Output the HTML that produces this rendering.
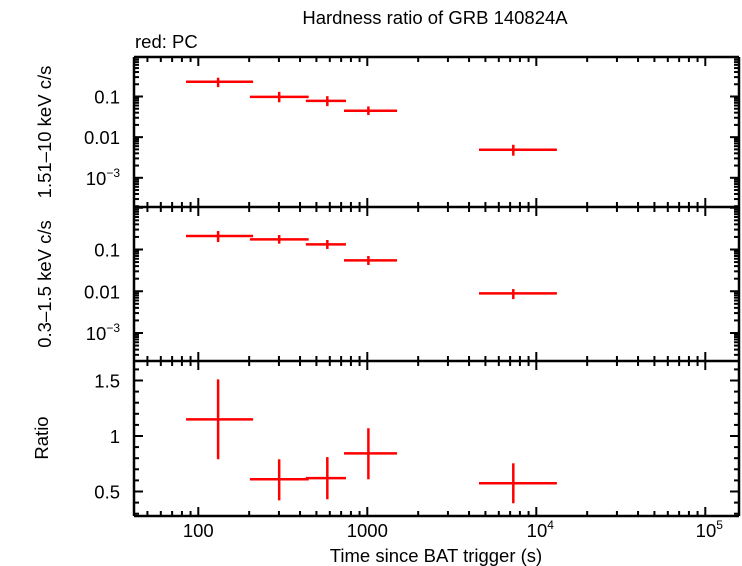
<!DOCTYPE html>
<html><head><meta charset="utf-8"><style>
body{margin:0;background:#fff}
svg{display:block;font-family:"Liberation Sans",Arial,sans-serif}
</style></head><body>
<svg id="c" width="742" height="566" viewBox="0 0 742 566">
<text x="435" y="24" font-size="18.5" text-anchor="middle">Hardness ratio of GRB 140824A</text>
<text x="135" y="48" font-size="18.5">red: PC</text>
<text transform="translate(51,132) rotate(-90)" font-size="18.5" text-anchor="middle">1.51–10 keV c/s</text>
<text transform="translate(51,284) rotate(-90)" font-size="18.5" text-anchor="middle">0.3–1.5 keV c/s</text>
<text transform="translate(48,438) rotate(-90)" font-size="18.5" text-anchor="middle">Ratio</text>
<text x="436" y="562" font-size="18.5" text-anchor="middle">Time since BAT trigger (s)</text>
<g id="g"></g>
</svg>
<script>
const timeCenters=[131,301,580,1015,7310];
const timeLow=[84.6,202,433,728,4580];
const timeHigh=[211,450,748,1500,13240];
const hardRate=[0.23,0.098,0.078,0.0446,0.0049];
const hardLow=[0.17,0.072,0.058,0.035,0.0035];
const hardHigh=[0.29,0.13,0.102,0.057,0.0065];
const softRate=[0.21,0.175,0.133,0.055,0.0089];
const softLow=[0.151,0.138,0.103,0.0425,0.0065];
const softHigh=[0.277,0.222,0.169,0.0698,0.0113];
const ratio=[1.15,0.61,0.62,0.844,0.574];
const ratioLow=[0.79,0.42,0.43,0.61,0.394];
const ratioHigh=[1.51,0.79,0.81,1.07,0.754];
const xTickVals=[100,1000,10000,100000];
const xTickLabels=["100","1000","10^4","10^5"];
const logTickVals=[0.1,0.01,0.001];
const logTickLabels=["0.1","0.01","10^-3"];
const ratioTickVals=[0.5,1,1.5];
const ratioTickLabels=["0.5","1","1.5"];

const NS="http://www.w3.org/2000/svg";
const g=document.getElementById('g');
const L=134,R=739;
const X=v=>198.3+169*(Math.log10(v)-2);
const Ytop=v=>96.5-40.65*(Math.log10(v)+1);
const Ymid=v=>249.5-41.75*(Math.log10(v)+1);
const Ybot=v=>436-111*(v-1);
const panels=[[57,207],[207,361],[361,516]];
function ln(x1,y1,x2,y2,c,w,name){const e=document.createElementNS(NS,'line');
e.setAttribute('x1',x1);e.setAttribute('y1',y1);e.setAttribute('x2',x2);e.setAttribute('y2',y2);
e.setAttribute('stroke',c);e.setAttribute('stroke-width',w);


g.appendChild(e);return e;}
function tx(x,y,s,anchor,name){const e=document.createElementNS(NS,'text');
e.setAttribute('x',x);e.setAttribute('y',y);e.setAttribute('font-size','18.5');e.setAttribute('text-anchor',anchor);
let m=s.match(/^(\d+)\^(.+)$/);
if(m){e.textContent=m[1];const t=document.createElementNS(NS,'tspan');t.setAttribute('dy','-8');t.setAttribute('font-size','12');t.textContent=m[2].replace('-','−');e.appendChild(t);}
else e.textContent=s;


g.appendChild(e);}
panels.forEach(([t,b],pi)=>{
 for(let d=1;d<=5;d++){for(let k=1;k<10;k++){const v=k*Math.pow(10,d);const x=X(v);if(x<=L||x>=R)continue;
  const len=k==1?9:5;ln(x,t,x,t+len,'#000',2,'x-tick');ln(x,b,x,b-len,'#000',2,'x-tick');}}
});
xTickVals.forEach((v,i)=>tx(X(v)+(i>1?4:0),537,xTickLabels[i],'middle','x-tick-label'));
[[Ytop,panels[0]],[Ymid,panels[1]]].forEach(([Y,[t,b]],pi)=>{
 for(let d=-5;d<=1;d++){for(let k=1;k<10;k++){const v=k*Math.pow(10,d);const y=Y(v);if(y<=t||y>=b)continue;
  const len=k==1?9:5;ln(L,y,L+len,y,'#000',2,'y-tick');ln(R,y,R-len,y,'#000',2,'y-tick');}}
 logTickVals.forEach((v,i)=>tx(120,Y(v)+7,logTickLabels[i],'end','y-tick-label'));
});
for(let v=0.3;v<1.7;v+=0.1){const y=Ybot(v);if(y<=361||y>=516)continue;const maj=Math.abs(v*2-Math.round(v*2))<1e-6;const len=maj?9:5;
 ln(L,y,L+len,y,'#000',2,'y-tick');ln(R,y,R-len,y,'#000',2,'y-tick');}
ratioTickVals.forEach((v,i)=>tx(120,Ybot(v)+7,ratioTickLabels[i],'end','ratio-tick-label'));
ln(L,57,R,57,'#000',2.5,'frame-top');ln(L,516,R,516,'#000',2.5,'frame-bottom');
ln(L,57,L,516,'#000',2.5,'frame-left');ln(R,57,R,516,'#000',2.5,'frame-right');
ln(L,207,R,207,'#000',2.5,'panel-divider');ln(L,361,R,361,'#000',2.5,'panel-divider');
function series(Y,vals,lo,hi,nm){vals.forEach((v,i)=>{
 ln(X(timeLow[i]),Y(v),X(timeHigh[i]),Y(v),'#f00',2.5,nm+'-xerr');
 ln(X(timeCenters[i]),Y(lo[i]),X(timeCenters[i]),Y(hi[i]),'#f00',2.5,nm+'-yerr');});}
series(Ytop,hardRate,hardLow,hardHigh,'hard-point');
series(Ymid,softRate,softLow,softHigh,'soft-point');
series(Ybot,ratio,ratioLow,ratioHigh,'ratio-point');
</script>
</body></html>
